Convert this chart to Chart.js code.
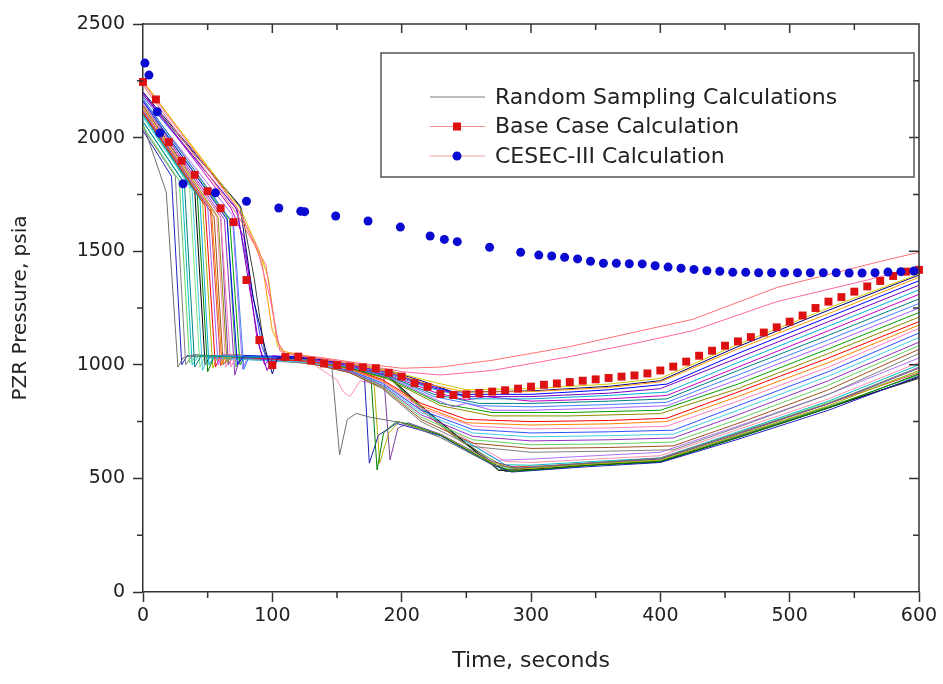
<!DOCTYPE html>
<html>
<head>
<meta charset="utf-8">
<title>PZR Pressure</title>
<script src="https://cdn.jsdelivr.net/npm/chart.js@4.4.1/dist/chart.umd.min.js"></script>
<style>
  html, body { margin: 0; padding: 0; background: #fff; }
  #chart { display: block; }
</style>
</head>
<body>
<canvas id="chart" width="943" height="684"></canvas>
<script>
// Base case (red squares), every 10 s
const baseTime = [0, 10, 20, 30, 40, 50, 60, 70, 80, 90, 100, 110, 120, 130, 140, 150, 160, 170, 180, 190,
  200, 210, 220, 230, 240, 250, 260, 270, 280, 290, 300, 310, 320, 330, 340, 350, 360, 370, 380, 390,
  400, 410, 420, 430, 440, 450, 460, 470, 480, 490, 500, 510, 520, 530, 540, 550, 560, 570, 580, 590, 600];
const basePressure = [2245, 2168, 1980, 1898, 1836, 1764, 1689, 1628, 1373, 1109, 999, 1034, 1036, 1018, 1006, 999, 992, 989, 985, 965,
  948, 919, 903, 871, 867, 870, 876, 882, 888, 895, 904, 912, 918, 924, 930, 936, 942, 948, 953, 962,
  975, 992, 1014, 1040, 1062, 1084, 1103, 1122, 1142, 1165, 1190, 1217, 1250, 1278, 1298, 1322, 1345, 1369, 1391, 1410, 1418];

// CESEC-III (blue circles)
const cesecTime = [1.5, 4.6, 11, 13, 31, 56, 80, 105, 122, 125, 149, 174, 199, 222, 233, 243, 268, 292,
  306, 316, 326, 336, 346, 356, 366, 376, 386, 396, 406, 416, 426, 436, 446, 456, 466, 476, 486, 496,
  506, 516, 526, 536, 546, 556, 566, 576, 586, 596];
const cesecPressure = [2328, 2275, 2114, 2020, 1797, 1757, 1720, 1690, 1676, 1674, 1655, 1633, 1606, 1567, 1552, 1542, 1517, 1495,
  1483, 1479, 1473, 1466, 1456, 1447, 1447, 1445, 1444, 1436, 1430, 1425, 1420, 1414, 1412, 1407, 1407, 1405, 1405, 1405,
  1405, 1405, 1405, 1405, 1404, 1404, 1405, 1408, 1410, 1413];

// Random sampling runs, [time, pressure]
const pinkRuns = [
  [[0,2230],[72,1670],[86,1530],[95,1440],[104,1100],[110,1050],[140,1030],[170,1005],[200,985],[230,990],[270,1020],[330,1080],[385,1150],[425,1200],[490,1340],[570,1455],[600,1495]],
  [[0,2240],[74,1680],[88,1520],[98,1300],[106,1060],[112,1045],[140,1025],[170,1000],[200,970],[230,955],[270,975],[330,1036],[385,1100],[425,1150],[490,1278],[560,1373],[600,1432]]
];
const upperRuns = [
  [[0,2245],[75,1690],[90,1500],[97,1380],[104,1080],[110,1050],[130,1035],[160,1005],[190,975],[220,930],[250,890],[300,895],[360,915],[400,940],[460,1090],[530,1250],[600,1400]],
  [[0,2250],[72,1700],[84,1560],[92,1450],[100,1150],[108,1060],[130,1035],[160,1005],[190,970],[220,915],[250,880],[300,882],[360,900],[400,925],[460,1070],[530,1225],[600,1385]],
  [[0,2200],[75,1700],[85,1300],[95,1060],[100,960],[104,1030],[130,1030],[160,1005],[190,975],[215,930],[240,880],[300,885],[360,905],[400,930],[460,1080],[530,1240],[600,1395]],
  [[0,2160],[65,1640],[73,1000],[78,1040],[130,1035],[160,1005],[190,970],[215,920],[245,870],[300,870],[360,890],[405,915],[460,1050],[530,1210],[600,1370]],
  [[0,2190],[73,1680],[82,1350],[90,1080],[96,975],[100,1030],[130,1030],[160,1000],[190,965],[220,905],[250,860],[300,860],[360,875],[400,895],[460,1030],[530,1190],[600,1350]],
  [[0,2100],[44,1730],[51,1000],[55,1040],[130,1030],[160,1000],[190,960],[220,900],[255,850],[300,850],[360,865],[405,880],[460,1010],[530,1170],[600,1330]],
  [[0,2200],[68,1690],[78,1560],[88,1120],[94,1000],[100,1040],[130,1025],[160,995],[190,955],[225,880],[250,845],[265,860],[300,840],[360,850],[405,865],[460,990],[530,1150],[600,1310]],
  [[0,2070],[32,1800],[40,990],[45,1040],[130,1025],[160,995],[190,950],[225,870],[260,830],[300,830],[360,840],[405,850],[460,975],[530,1130],[600,1290]],
  [[0,2170],[70,1620],[78,980],[82,1035],[130,1025],[160,990],[190,950],[225,860],[260,820],[300,815],[360,825],[405,835],[460,955],[530,1110],[600,1270]],
  [[0,2120],[50,1700],[58,1000],[62,1045],[130,1020],[160,990],[190,945],[225,850],[240,815],[250,830],[270,800],[300,800],[360,810],[405,820],[460,935],[530,1090],[600,1250]],
  [[0,2170],[67,1640],[75,1000],[79,1040],[130,1020],[160,985],[190,940],[230,830],[270,790],[330,790],[400,800],[460,915],[530,1070],[600,1230]],
  [[0,2140],[58,1650],[65,1010],[70,1045],[130,1020],[160,985],[190,935],[230,820],[270,775],[330,775],[400,785],[460,895],[530,1050],[600,1210]]
];
const middleRuns = [
  [[0,2110],[48,1700],[56,990],[60,1040],[130,1015],[160,985],[185,935],[215,830],[250,760],[300,750],[360,755],[405,765],[460,880],[530,1030],[600,1190]],
  [[0,2130],[53,1680],[61,1005],[65,1045],[130,1015],[160,980],[185,930],[215,820],[250,745],[300,735],[360,740],[405,750],[460,860],[530,1010],[600,1175]],
  [[0,2150],[60,1650],[68,990],[72,1040],[130,1015],[160,980],[185,925],[215,810],[255,730],[300,718],[360,722],[405,730],[460,840],[530,990],[600,1160]],
  [[0,2180],[72,1690],[82,1400],[92,1080],[98,990],[102,1035],[130,1015],[160,975],[185,920],[215,800],[255,715],[300,700],[360,705],[410,712],[460,820],[530,970],[600,1140]],
  [[0,2090],[38,1770],[46,975],[50,1030],[130,1010],[160,975],[185,915],[215,790],[255,700],[300,683],[360,688],[410,695],[460,800],[530,950],[600,1120]],
  [[0,2150],[63,1640],[71,955],[75,1030],[130,1010],[160,970],[185,910],[215,780],[255,685],[300,665],[360,670],[410,678],[460,780],[530,930],[600,1100]],
  [[0,2050],[28,1810],[36,1010],[42,1040],[130,1010],[160,970],[185,905],[215,770],[255,670],[300,648],[360,652],[410,660],[460,760],[530,910],[600,1085]],
  [[0,2120],[55,1650],[62,1000],[67,1040],[130,1005],[160,965],[185,900],[215,760],[255,655],[300,632],[360,636],[410,643],[460,742],[530,890],[600,1068]],
  [[0,2040],[25,1830],[33,1000],[38,1040],[130,1005],[160,965],[185,895],[215,750],[255,640],[300,615],[360,620],[410,626],[460,725],[530,870],[600,1050]]
];
const lowerRuns = [
  [[0,2060],[18,1760],[27,990],[31,1030],[40,1045],[130,1010],[146,990],[152,603],[158,760],[165,786],[175,770],[200,745],[230,680],[270,560],[290,545],[340,565],[400,590],[460,700],[530,830],[600,990]],
  [[0,2100],[42,1745],[50,970],[55,1035],[130,1010],[160,985],[176,970],[181,537],[186,700],[196,750],[205,740],[230,690],[270,565],[285,530],[340,555],[400,575],[460,680],[530,810],[600,960]],
  [[0,2030],[22,1830],[30,1000],[34,1040],[130,1010],[160,985],[171,970],[175,567],[182,690],[196,742],[230,688],[270,560],[285,528],[340,550],[400,570],[460,672],[530,800],[600,950]],
  [[0,2110],[46,1720],[54,985],[58,1040],[130,1010],[160,980],[178,975],[183,567],[190,700],[198,748],[230,692],[270,570],[290,540],[340,560],[400,580],[460,690],[530,820],[600,975]],
  [[0,2140],[60,1650],[66,1000],[70,1040],[130,1010],[160,980],[186,960],[191,581],[197,720],[205,745],[230,695],[270,575],[290,545],[340,565],[400,585],[460,695],[530,828],[600,985]],
  [[0,2110],[40,1770],[48,1000],[52,1040],[130,1010],[160,985],[190,950],[215,820],[240,700],[275,535],[300,540],[350,560],[400,572],[460,680],[530,810],[600,945]],
  [[0,2150],[65,1650],[72,990],[76,1040],[130,1010],[160,980],[190,945],[215,815],[240,690],[275,540],[300,545],[350,565],[400,578],[460,688],[530,815],[600,955]],
  [[0,2130],[57,1650],[64,990],[68,1040],[130,1010],[150,933],[155,880],[160,860],[168,930],[190,900],[215,800],[245,690],[280,575],[300,570],[350,585],[400,600],[460,715],[530,850],[600,1010]],
  [[0,2070],[30,1815],[38,1000],[43,1040],[130,1010],[160,980],[190,945],[215,810],[245,680],[280,560],[300,558],[350,575],[400,590],[460,705],[530,840],[600,1000]],
  [[0,2190],[76,1690],[86,1380],[94,1060],[99,985],[103,1035],[130,1015],[160,985],[190,950],[215,815],[245,675],[280,530],[310,540],[350,560],[400,575],[460,685],[530,815],[600,940]],
  [[0,2100],[36,1790],[44,990],[48,1040],[130,1010],[160,980],[190,945],[215,805],[245,670],[280,545],[310,550],[350,565],[400,582],[460,700],[530,835],[600,970]],
  [[0,2120],[52,1690],[60,995],[64,1040],[130,1010],[160,980],[190,945],[215,800],[245,665],[280,550],[310,555],[350,570],[400,585],[460,698],[530,830],[600,965]],
  [[0,2160],[69,1660],[77,980],[81,1035],[130,1010],[160,980],[190,945],[215,810],[245,680],[275,580],[300,585],[350,600],[400,615],[460,730],[530,870],[600,1030]]
];

const pinkColors = ['#ff7070', '#ff66aa'];
const upperColors = ['#d8c800', '#ff9900', '#000080', '#0000ff', '#7a00c0', '#00b0d0', '#c000c0', '#008080', '#4080ff', '#a060ff', '#00a000', '#8c8c00'];
const middleColors = ['#ff0000', '#ff8000', '#ff80c0', '#3050ff', '#40d0e0', '#9030c0', '#60d060', '#a05020', '#808080'];
const lowerColors = ['#707070', '#008000', '#2020c0', '#b0b000', '#8040a0', '#000000', '#40b040', '#ff90b0', '#00c0c0', '#404040', '#80e080', '#e04040', '#b070ff'];

const labelRandom = 'Random Sampling Calculations';
const labelBase = 'Base Case Calculation';
const labelCesec = 'CESEC-III Calculation';

const axisColor = '#333';
const textColor = '#222';
const fontFamily = '"DejaVu Sans", sans-serif';

function toPoints(times, values) {
  return times.map((t, i) => ({ x: t, y: values[i] }));
}

const runDatasets = [];
[[pinkRuns, pinkColors], [upperRuns, upperColors], [middleRuns, middleColors], [lowerRuns, lowerColors]].forEach(([runs, colors]) => {
  runs.forEach((run, i) => {
    runDatasets.push({
      label: runDatasets.length === 0 ? labelRandom : '',
      data: run.map(p => ({ x: p[0], y: p[1] })),
      borderColor: colors[i],
      borderWidth: 1,
      pointRadius: 0,
      tension: 0,
      fill: false
    });
  });
});

// legend box inside the plot, drawn after everything else
const legendBox = {
  id: 'legendBox',
  afterDraw(chart) {
    const ctx = chart.ctx;
    const a = chart.chartArea;
    const x0 = a.left + 238, y0 = a.top + 29;
    const items = [
      { label: labelRandom, line: '#7a7a7a' },
      { label: labelBase, line: '#f09090', square: '#dd1111' },
      { label: labelCesec, line: '#f0a0a0', circle: '#0a0ad0' }
    ];
    ctx.save();
    ctx.strokeStyle = '#555';
    ctx.lineWidth = 1.5;
    ctx.strokeRect(x0, y0, 533, 124);
    ctx.font = '22px ' + fontFamily;
    ctx.fillStyle = textColor;
    ctx.textBaseline = 'middle';
    items.forEach((item, i) => {
      const y = y0 + 44 + i * 29.5;
      ctx.strokeStyle = item.line;
      ctx.lineWidth = 1;
      ctx.beginPath();
      ctx.moveTo(x0 + 49, y);
      ctx.lineTo(x0 + 104, y);
      ctx.stroke();
      if (item.square) {
        ctx.fillStyle = item.square;
        ctx.fillRect(x0 + 72, y - 4, 8, 8);
      }
      if (item.circle) {
        ctx.fillStyle = item.circle;
        ctx.beginPath();
        ctx.arc(x0 + 76, y, 4.5, 0, Math.PI * 2);
        ctx.fill();
      }
      ctx.fillStyle = textColor;
      ctx.fillText(item.label, x0 + 114, y + 1);
    });
    ctx.restore();
  }
};

// top/right frame, inward mirror ticks and minor ticks
const frameTicks = {
  id: 'frameTicks',
  afterDraw(chart) {
    const { ctx, chartArea: a, scales: { x, y } } = chart;
    ctx.save();
    ctx.strokeStyle = axisColor;
    ctx.lineWidth = 1.5;
    ctx.beginPath();
    ctx.moveTo(a.left, a.top);
    ctx.lineTo(a.right, a.top);
    ctx.lineTo(a.right, a.bottom);
    for (let t = 50; t < 600; t += 50) {
      const px = x.getPixelForValue(t);
      ctx.moveTo(px, a.top);
      ctx.lineTo(px, a.top + (t % 100 ? 6 : 9));
    }
    for (let t = 50; t < 600; t += 100) {
      const px = x.getPixelForValue(t);
      ctx.moveTo(px, a.bottom);
      ctx.lineTo(px, a.bottom + 6);
    }
    for (let v = 250; v < 2500; v += 500) {
      const py = y.getPixelForValue(v);
      ctx.moveTo(a.left, py);
      ctx.lineTo(a.left - 6, py);
    }
    for (let v = 250; v < 2500; v += 250) {
      const py = y.getPixelForValue(v);
      ctx.moveTo(a.right, py);
      ctx.lineTo(a.right - (v % 500 ? 6 : 10), py);
    }
    ctx.stroke();
    ctx.restore();
  }
};

const ctx = document.getElementById('chart');

new Chart(ctx, {
  type: 'line',
  data: {
    datasets: [
      {
        label: labelCesec,
        data: toPoints(cesecTime, cesecPressure),
        showLine: false,
        pointStyle: 'circle',
        pointRadius: 4.5,
        backgroundColor: '#0a0ad0',
        borderColor: '#0a0ad0',
        borderWidth: 0,
        clip: 6
      },
      {
        label: labelBase,
        data: toPoints(baseTime, basePressure),
        showLine: false,
        pointStyle: 'rect',
        pointRadius: 5.6,
        backgroundColor: '#dd1111',
        borderColor: '#dd1111',
        borderWidth: 0,
        clip: 6
      },
      ...runDatasets
    ]
  },
  options: {
    responsive: false,
    animation: false,
    events: [],
    layout: { padding: { top: 24, right: 24, left: 0, bottom: 0 } },
    plugins: {
      legend: { display: false },
      tooltip: { enabled: false }
    },
    scales: {
      x: {
        type: 'linear',
        min: 0,
        max: 600,
        afterFit: (scale) => { scale.height = 92; },
        ticks: { stepSize: 100, color: textColor, padding: 3, font: { family: fontFamily, size: 19 }, callback: (v) => String(v) },
        grid: { drawOnChartArea: false, drawTicks: true, tickLength: 10, tickColor: axisColor, tickWidth: 1.5 },
        border: { display: true, color: axisColor, width: 1.5 },
        title: { display: true, text: 'Time, seconds', color: textColor, font: { family: fontFamily, size: 22 }, padding: { top: 0, bottom: 10 } }
      },
      y: {
        type: 'linear',
        min: 0,
        max: 2500,
        afterFit: (scale) => { scale.width = 143; },
        ticks: { stepSize: 500, color: textColor, padding: 8, font: { family: fontFamily, size: 19 }, callback: (v) => String(v) },
        grid: { drawOnChartArea: false, drawTicks: true, tickLength: 10, tickColor: axisColor, tickWidth: 1.5 },
        border: { display: true, color: axisColor, width: 1.5 },
        title: { display: true, text: 'PZR Pressure, psia', color: textColor, font: { family: fontFamily, size: 20 }, padding: { top: 9, bottom: 0 } }
      }
    }
  },
  plugins: [frameTicks, legendBox]
});
</script>
</body>
</html>
